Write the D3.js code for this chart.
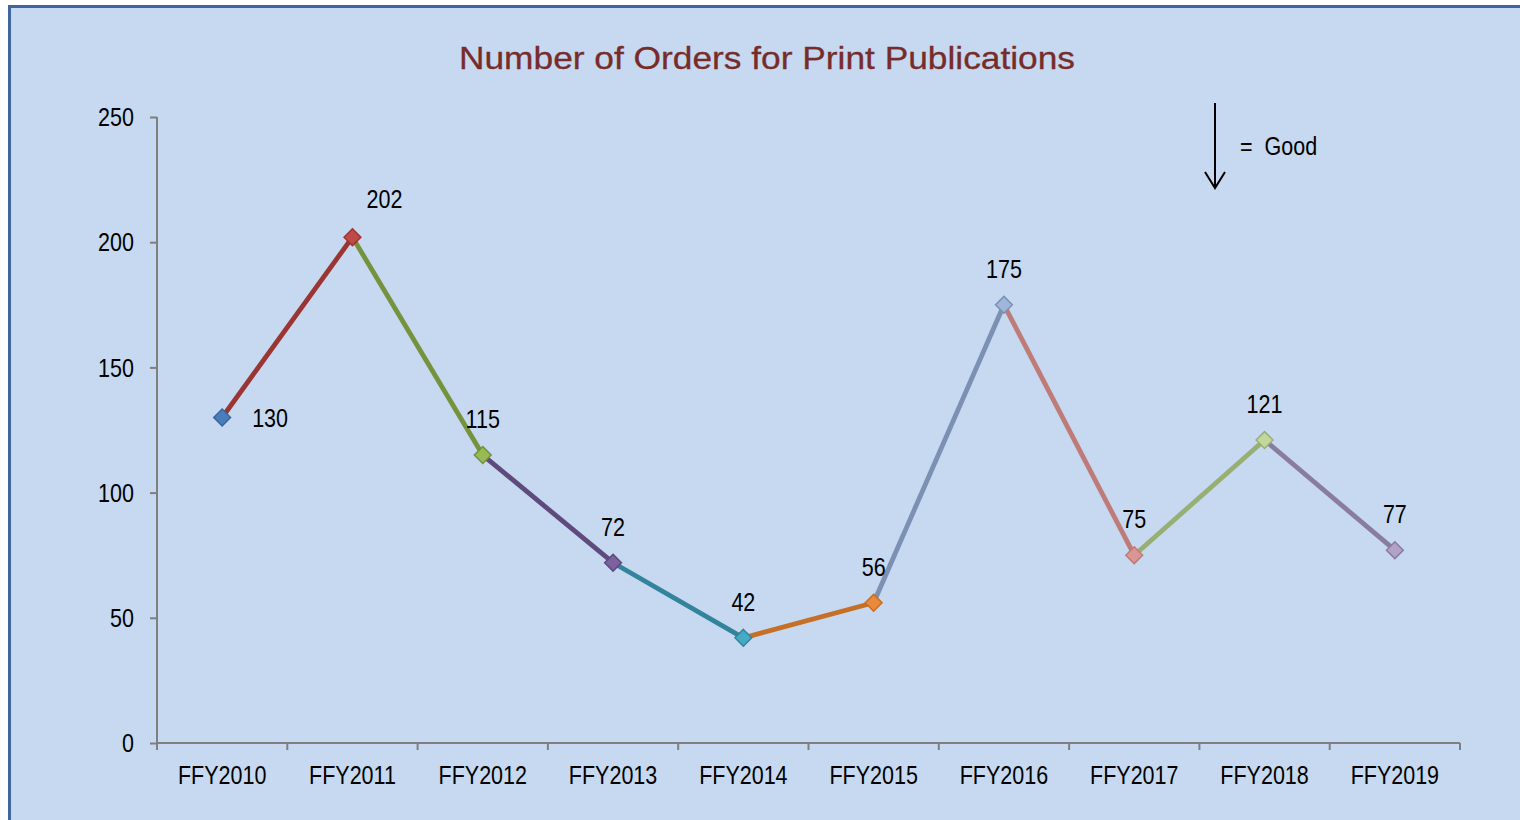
<!DOCTYPE html>
<html>
<head>
<meta charset="utf-8">
<script src="https://cdn.jsdelivr.net/npm/d3@7"></script>
<style>
  body { margin: 0; background: #fff; }
  svg { display: block; }
  text { font-family: "Liberation Sans Narrow", "Arial Narrow", "Liberation Sans", sans-serif; }
</style>
</head>
<body>
<div id="chart"></div>
<script>
// data
const years = ["FFY2010", "FFY2011", "FFY2012", "FFY2013", "FFY2014", "FFY2015", "FFY2016", "FFY2017", "FFY2018", "FFY2019"];
const orders = [130, 202, 115, 72, 42, 56, 175, 75, 121, 77];
const yTicks = [0, 50, 100, 150, 200, 250];
// excel style: each point has own colour, segment takes colour of point it ends on
const markerFill = ["#4A7EBB", "#BE4B48", "#98B954", "#7D60A0", "#46AAC5", "#E8893D", "#A0B6D8", "#D99694", "#C3D69B", "#B3A2C7"];
const markerStroke = ["#3A679F", "#9B3533", "#75923C", "#5F4A7D", "#31849B", "#C56F27", "#7B90B3", "#BE7B78", "#98AF73", "#8A7CA0"];
const labelPlace = ["right", "aboveRight", "above", "above", "above", "above", "above", "above", "above", "above"];

const width = 1520, height = 820;
const svg = d3.select("#chart").append("svg")
    .attr("width", width)
    .attr("height", height);

// no narrow font installed, so squeeze text to look like arial narrow
function narrow(sel, k) {
    sel.each(function () {
        const w = this.getComputedTextLength();
        d3.select(this).attr("textLength", w * k).attr("lengthAdjust", "spacingAndGlyphs");
    });
}

// frame
svg.append("rect")
    .attr("x", 9.5).attr("y", 6.5)
    .attr("width", 1530).attr("height", 830)
    .attr("fill", "#C6D9F0")
    .attr("stroke", "#40679C")
    .attr("stroke-width", 3);

const plotL = 157, plotR = 1460, plotT = 117, plotB = 743;

const x = d3.scaleBand().domain(years).range([plotL, plotR]);
const y = d3.scaleLinear().domain([0, 250]).range([plotB, plotT]);
const cx = d => x(d) + x.bandwidth() / 2;

svg.append("text")
    .attr("x", 767).attr("y", 69)
    .attr("text-anchor", "middle")
    .style("font-family", "'Liberation Sans', Arial, sans-serif")
    .style("font-size", "32px")
    .attr("fill", "#772C2A")
    .attr("stroke", "#772C2A")
    .attr("stroke-width", 0.3)
    .attr("textLength", 616)
    .attr("lengthAdjust", "spacingAndGlyphs")
    .text("Number of Orders for Print Publications");

// axes
const yAxis = svg.append("g")
    .attr("transform", `translate(${plotL},0)`)
    .call(d3.axisLeft(y).tickValues(yTicks).tickSize(7).tickPadding(16));
const xAxis = svg.append("g")
    .attr("transform", `translate(0,${plotB})`)
    .call(d3.axisBottom(x).tickSize(7).tickPadding(16));

// move x ticks to band edges like excel
xAxis.selectAll(".tick line").remove();
xAxis.selectAll("line.edge")
    .data(d3.range(years.length + 1))
    .join("line")
    .attr("class", "edge")
    .attr("x1", i => plotL + i * x.bandwidth())
    .attr("x2", i => plotL + i * x.bandwidth())
    .attr("y1", 0).attr("y2", 7);

[yAxis, xAxis].forEach(a => {
    a.select(".domain").attr("stroke", "#7F7F7F").attr("stroke-width", 2);
    a.selectAll("line").attr("stroke", "#7F7F7F").attr("stroke-width", 2);
    a.selectAll("text").style("font-size", "25px").attr("fill", "#000")
        .style("font-family", "'Liberation Sans Narrow', 'Arial Narrow', sans-serif");
});
yAxis.select(".domain").attr("d", `M0,${plotT}V${plotB}`);
xAxis.select(".domain").attr("d", `M${plotL},0H${plotR}`);
yAxis.selectAll(".tick text").attr("dy", "0.35em");
narrow(yAxis.selectAll(".tick text"), 0.86);
narrow(xAxis.selectAll(".tick text"), 0.86);

// segments
const segs = d3.range(1, orders.length);
svg.append("g")
    .selectAll("line")
    .data(segs)
    .join("line")
    .attr("x1", i => cx(years[i - 1]))
    .attr("y1", i => y(orders[i - 1]))
    .attr("x2", i => cx(years[i]))
    .attr("y2", i => y(orders[i]))
    .attr("stroke", i => markerStroke[i])
    .attr("stroke-width", 4.8)
    .attr("stroke-linecap", "butt");

// markers
const diamond = d3.symbol().type(d3.symbolDiamond2).size(180);
svg.append("g")
    .selectAll("path")
    .data(orders)
    .join("path")
    .attr("transform", (d, i) => `translate(${cx(years[i])},${y(d)})`)
    .attr("d", diamond)
    .attr("fill", (d, i) => markerFill[i])
    .attr("stroke", (d, i) => markerStroke[i])
    .attr("stroke-width", 1.5);

// data labels
const labels = svg.append("g")
    .selectAll("text")
    .data(orders)
    .join("text")
    .attr("x", (d, i) => cx(years[i]) + (labelPlace[i] == "right" ? 30 : labelPlace[i] == "aboveRight" ? 32 : 0))
    .attr("y", (d, i) => y(d) + (labelPlace[i] == "right" ? 10 : labelPlace[i] == "aboveRight" ? -29 : -27))
    .attr("text-anchor", (d, i) => labelPlace[i] == "right" ? "start" : "middle")
    .style("font-size", "25px")
    .attr("fill", "#000")
    .text(d => d);
narrow(labels, 0.86);

// legend: down arrow = good
const lg = svg.append("g").attr("stroke", "#000").attr("stroke-width", 2).attr("fill", "none");
lg.append("line").attr("x1", 1215).attr("y1", 103).attr("x2", 1215).attr("y2", 188);
lg.append("path").attr("d", "M1205,172L1215,188L1225,172");
const good = svg.append("text")
    .attr("x", 1240).attr("y", 155)
    .style("font-size", "25px")
    .attr("fill", "#000")
    .attr("xml:space", "preserve")
    .text("=  Good");
narrow(good, 0.86);
</script>
</body>
</html>
